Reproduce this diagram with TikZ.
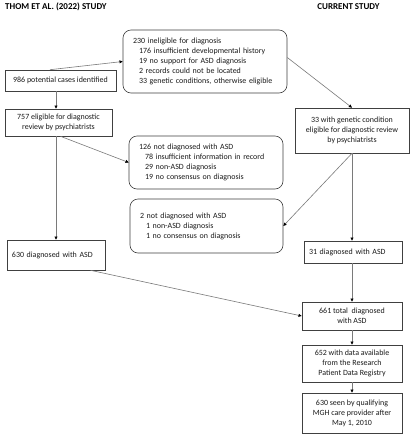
\documentclass[tikz,border=0pt]{standalone}
\usepackage{fontspec}
\setmainfont{Carlito}
\usetikzlibrary{arrows.meta,calc}
\definecolor{boxline}{HTML}{404040}
\definecolor{conn}{HTML}{7A7A7A}
\definecolor{txt}{HTML}{1A1A1A}
\begin{document}
\begin{tikzpicture}[x=1pt,y=-1pt,
  every node/.style={font=\fontsize{7.95}{10}\selectfont, text=txt},
  sqbox/.style={draw=boxline, line width=0.6pt, rectangle, align=center, inner sep=0pt},
  rbox/.style={draw=boxline, line width=0.6pt, rectangle, rounded corners=8pt, align=left, inner xsep=10pt, inner ysep=0pt},
  conn/.style={draw=conn, line width=0.6pt, -{Triangle[black,length=3.2pt,width=3pt]}},
  ttl/.style={font=\fontsize{9}{10}\selectfont\bfseries, text=black, inner sep=0pt}
]
\useasboundingbox (0,0) rectangle (410,440);
\fill[white] (0,0) rectangle (410,440);

\node[ttl, anchor=west] (t1) at (5,7) {THOM ET AL. (2022) STUDY};
\node[ttl] (t2) at (348.5,7) {CURRENT STUDY};

\node[sqbox, minimum width=111pt, minimum height=21pt] (A) at (60.5,80.5) {986 potential cases identified};
\node[rbox, text width=144pt, minimum height=63pt] (B) at (205,61.5) {230 ineligible for diagnosis\\
\hspace*{6pt}176 insufficient developmental history\\
\hspace*{6pt}19 no support for ASD diagnosis\\
\hspace*{6pt}2 records could not be located\\
\hspace*{6pt}33 genetic conditions, otherwise eligible};
\node[sqbox, minimum width=107pt, minimum height=27pt] (C) at (58.5,122.5) {757 eligible for diagnostic\\review by psychiatrists};
\node[sqbox, minimum width=114pt, minimum height=45pt] (D) at (352,130.5) {33 with genetic condition\\eligible for diagnostic review\\by psychiatrists};
\node[rbox, text width=134pt, minimum height=53pt] (E) at (206,162.5) {126 not diagnosed with ASD\\
\hspace*{6pt}78 insufficient information in record\\
\hspace*{6pt}29 non-ASD diagnosis\\
\hspace*{6pt}19 no consensus on diagnosis};
\node[rbox, text width=133pt, minimum height=54pt] (F) at (206.5,226) {2 not diagnosed with ASD\\
\hspace*{6pt}1 non-ASD diagnosis\\
\hspace*{6pt}1 no consensus on diagnosis};
\node[sqbox, minimum width=98pt, minimum height=30pt, align=left, text width=88pt, inner xsep=5pt] (G) at (56,255) {630 diagnosed with ASD\\[4pt]};
\node[sqbox, minimum width=98pt, minimum height=22pt, align=left, text width=88pt, inner xsep=5pt] (H) at (353,252) {31 diagnosed with ASD};
\node[sqbox, minimum width=100pt, minimum height=28pt] (I) at (352,316) {661 total\ \ diagnosed\\with ASD};
\node[sqbox, minimum width=100pt, minimum height=37pt] (J) at (352,363.5) {652 with data available\\from the Research\\Patient Data Registry};
\node[sqbox, minimum width=100pt, minimum height=40pt] (K) at (352,413) {630 seen by qualifying\\MGH care provider after\\May 1, 2010};

\draw[conn] ([xshift=-10.5pt]A.north) -- (B.west);
\draw[conn] (A.south -| G) -- (C.north -| G);
\draw[conn] (C.south -| G) -- (G.north);
\draw[conn] ([xshift=2pt]C.south) -- (E.west);
\draw[conn] ([yshift=4pt]B.east) -- (D.north);
\draw[conn] (D.south) -- (F.east);
\draw[conn] (D.south) -- (D.south |- H.north);
\draw[conn] ($(G.south west)!0.85!(G.south east)$) -- (I.west);
\draw[conn] (H.south -| I) -- (I.north);
\draw[conn] (I.south) -- (J.north);
\draw[conn] (J.south) -- (K.north);
\end{tikzpicture}
\end{document}
